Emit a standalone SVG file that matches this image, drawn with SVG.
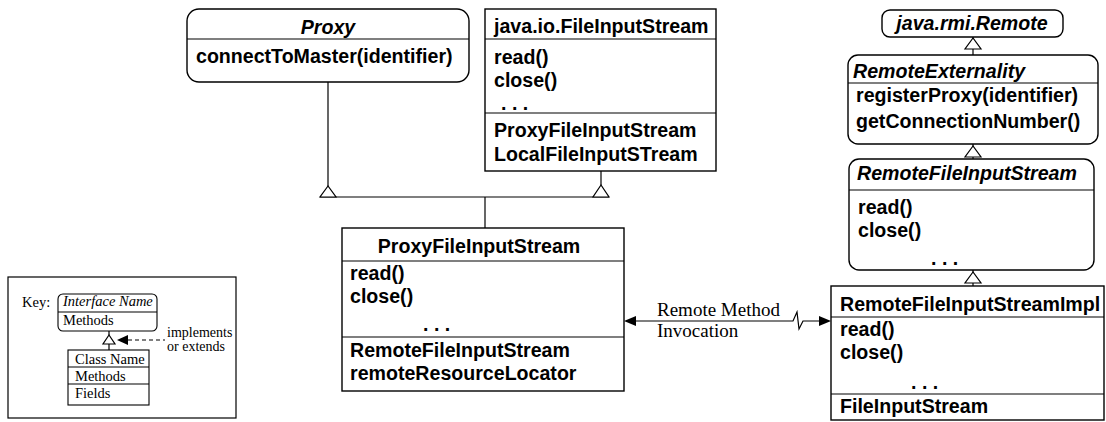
<svg xmlns="http://www.w3.org/2000/svg" width="1106" height="422" viewBox="0 0 1106 422">
<style>
.box{fill:#fff;stroke:#000;stroke-width:1.4}
.dv{stroke:#000;stroke-width:1.2;fill:none}
.t{font-family:"Liberation Sans",Arial,sans-serif;font-weight:bold;font-size:19.6px;fill:#000}
.ti{font-style:italic}
.s{font-family:"Liberation Serif","Times New Roman",serif;fill:#000}
.ln{stroke:#000;stroke-width:1.2;fill:none}
.dash{stroke:#000;stroke-width:1.2;fill:none;stroke-dasharray:4 3}
.tri{fill:#fff;stroke:#000;stroke-width:1.2}
.ah{fill:#000;stroke:none}
</style>
<rect x="0" y="0" width="1106" height="422" fill="#fff"/>

<g id="connectors">
  <path class="ln" d="M328,82 V186"/>
  <path class="ln" d="M601,171 V185"/>
  <path class="ln" d="M320,197 H609"/>
  <path class="ln" d="M485,197 V228"/>
  <polygon class="tri" points="328,186 320,197 336,197"/>
  <polygon class="tri" points="601,185 593,197 609,197"/>
  <path class="ln" d="M973,37 V55"/>
  <polygon class="tri" points="973,38 965,49 981,49"/>
  <path class="ln" d="M973,144 V159"/>
  <polygon class="tri" points="973,146 965,157 981,157"/>
  <path class="ln" d="M973,270 V286"/>
  <polygon class="tri" points="973,272 965,283 981,283"/>
  <path class="ln" d="M636,321 H793 L797,312 L799,329 L803,321 H819"/>
  <polygon class="ah" points="624,321 636,316 636,326"/>
  <polygon class="ah" points="831,321 819,316 819,326"/>
  <text class="s" x="657" y="316" font-size="19">Remote Method</text>
  <text class="s" x="657" y="337" font-size="19">Invocation</text>
</g>

<g id="proxy">
  <rect class="box" x="187" y="9" width="282" height="73" rx="12"/>
  <path class="dv" d="M187,39 H469"/>
  <text class="t ti" x="328" y="34" text-anchor="middle">Proxy</text>
  <text class="t" x="196" y="63">connectToMaster(identifier)</text>
</g>

<g id="java-io-fileinputstream">
  <rect class="box" x="485" y="9" width="231" height="162"/>
  <path class="dv" d="M485,39 H716 M485,113 H716"/>
  <text class="t" x="494" y="33">java.io.FileInputStream</text>
  <text class="t" x="494" y="64">read()</text>
  <text class="t" x="494" y="87">close()</text>
  <text class="t" x="501" y="110">. . .</text>
  <text class="t" x="494" y="137">ProxyFileInputStream</text>
  <text class="t" x="494" y="161">LocalFileInputSTream</text>
</g>

<g id="proxyfileinputstream">
  <rect class="box" x="342" y="228" width="282" height="163"/>
  <path class="dv" d="M342,261 H624 M342,337 H624"/>
  <text class="t" x="479" y="253" text-anchor="middle">ProxyFileInputStream</text>
  <text class="t" x="350" y="280">read()</text>
  <text class="t" x="350" y="303">close()</text>
  <text class="t" x="423" y="331">. . .</text>
  <text class="t" x="350" y="357">RemoteFileInputStream</text>
  <text class="t" x="350" y="380">remoteResourceLocator</text>
</g>

<g id="java-rmi-remote">
  <rect class="box" x="882" y="10" width="181" height="27" rx="8"/>
  <text class="t ti" x="972" y="30" text-anchor="middle">java.rmi.Remote</text>
</g>

<g id="remoteexternality">
  <rect class="box" x="848" y="55" width="250" height="89" rx="10"/>
  <path class="dv" d="M848,83 H1098"/>
  <text class="t ti" x="853" y="78">RemoteExternality</text>
  <text class="t" x="856" y="102">registerProxy(identifier)</text>
  <text class="t" x="856" y="128">getConnectionNumber()</text>
</g>

<g id="remotefileinputstream">
  <rect class="box" x="849" y="159" width="245" height="111" rx="10"/>
  <path class="dv" d="M849,190 H1094"/>
  <text class="t ti" x="857" y="180">RemoteFileInputStream</text>
  <text class="t" x="858" y="214">read()</text>
  <text class="t" x="858" y="237">close()</text>
  <text class="t" x="931" y="265">. . .</text>
</g>

<g id="remotefileinputstreamimpl">
  <rect class="box" x="831" y="286" width="273" height="134"/>
  <path class="dv" d="M831,317 H1104 M831,394 H1104"/>
  <text class="t" x="840" y="311">RemoteFileInputStreamImpl</text>
  <text class="t" x="840" y="336">read()</text>
  <text class="t" x="840" y="359">close()</text>
  <text class="t" x="911" y="389">. . .</text>
  <text class="t" x="840" y="413">FileInputStream</text>
</g>

<g id="key">
  <rect x="8" y="277" width="228" height="141" fill="#fff" stroke="#000" stroke-width="1.2"/>
  <text class="s" x="22" y="307" font-size="14.5">Key:</text>
  <rect x="58" y="294" width="99" height="37" rx="5" fill="#fff" stroke="#000" stroke-width="1.1"/>
  <path class="dv" d="M58,312 H157" stroke-width="1"/>
  <text class="s" x="63" y="306" font-size="14.5" font-style="italic">Interface Name</text>
  <text class="s" x="63" y="325" font-size="14.5">Methods</text>
  <path class="ln" d="M109,331 V335 M109,344 V350" stroke-width="1"/>
  <polygon class="tri" points="109,335 103,344 115,344" stroke-width="1"/>
  <polygon class="ah" points="117,340 128,335 128,345"/>
  <path class="dash" d="M128,340 H165" stroke-width="1"/>
  <text class="s" x="167" y="337" font-size="14">implements</text>
  <text class="s" x="167" y="351" font-size="14">or extends</text>
  <rect x="68" y="350" width="81" height="55" fill="#fff" stroke="#000" stroke-width="1.1"/>
  <path class="dv" d="M68,367 H149 M68,384 H149" stroke-width="1"/>
  <text class="s" x="75" y="364" font-size="14.5">Class Name</text>
  <text class="s" x="75" y="381" font-size="14.5">Methods</text>
  <text class="s" x="75" y="398" font-size="14.5">Fields</text>
</g>
</svg>
